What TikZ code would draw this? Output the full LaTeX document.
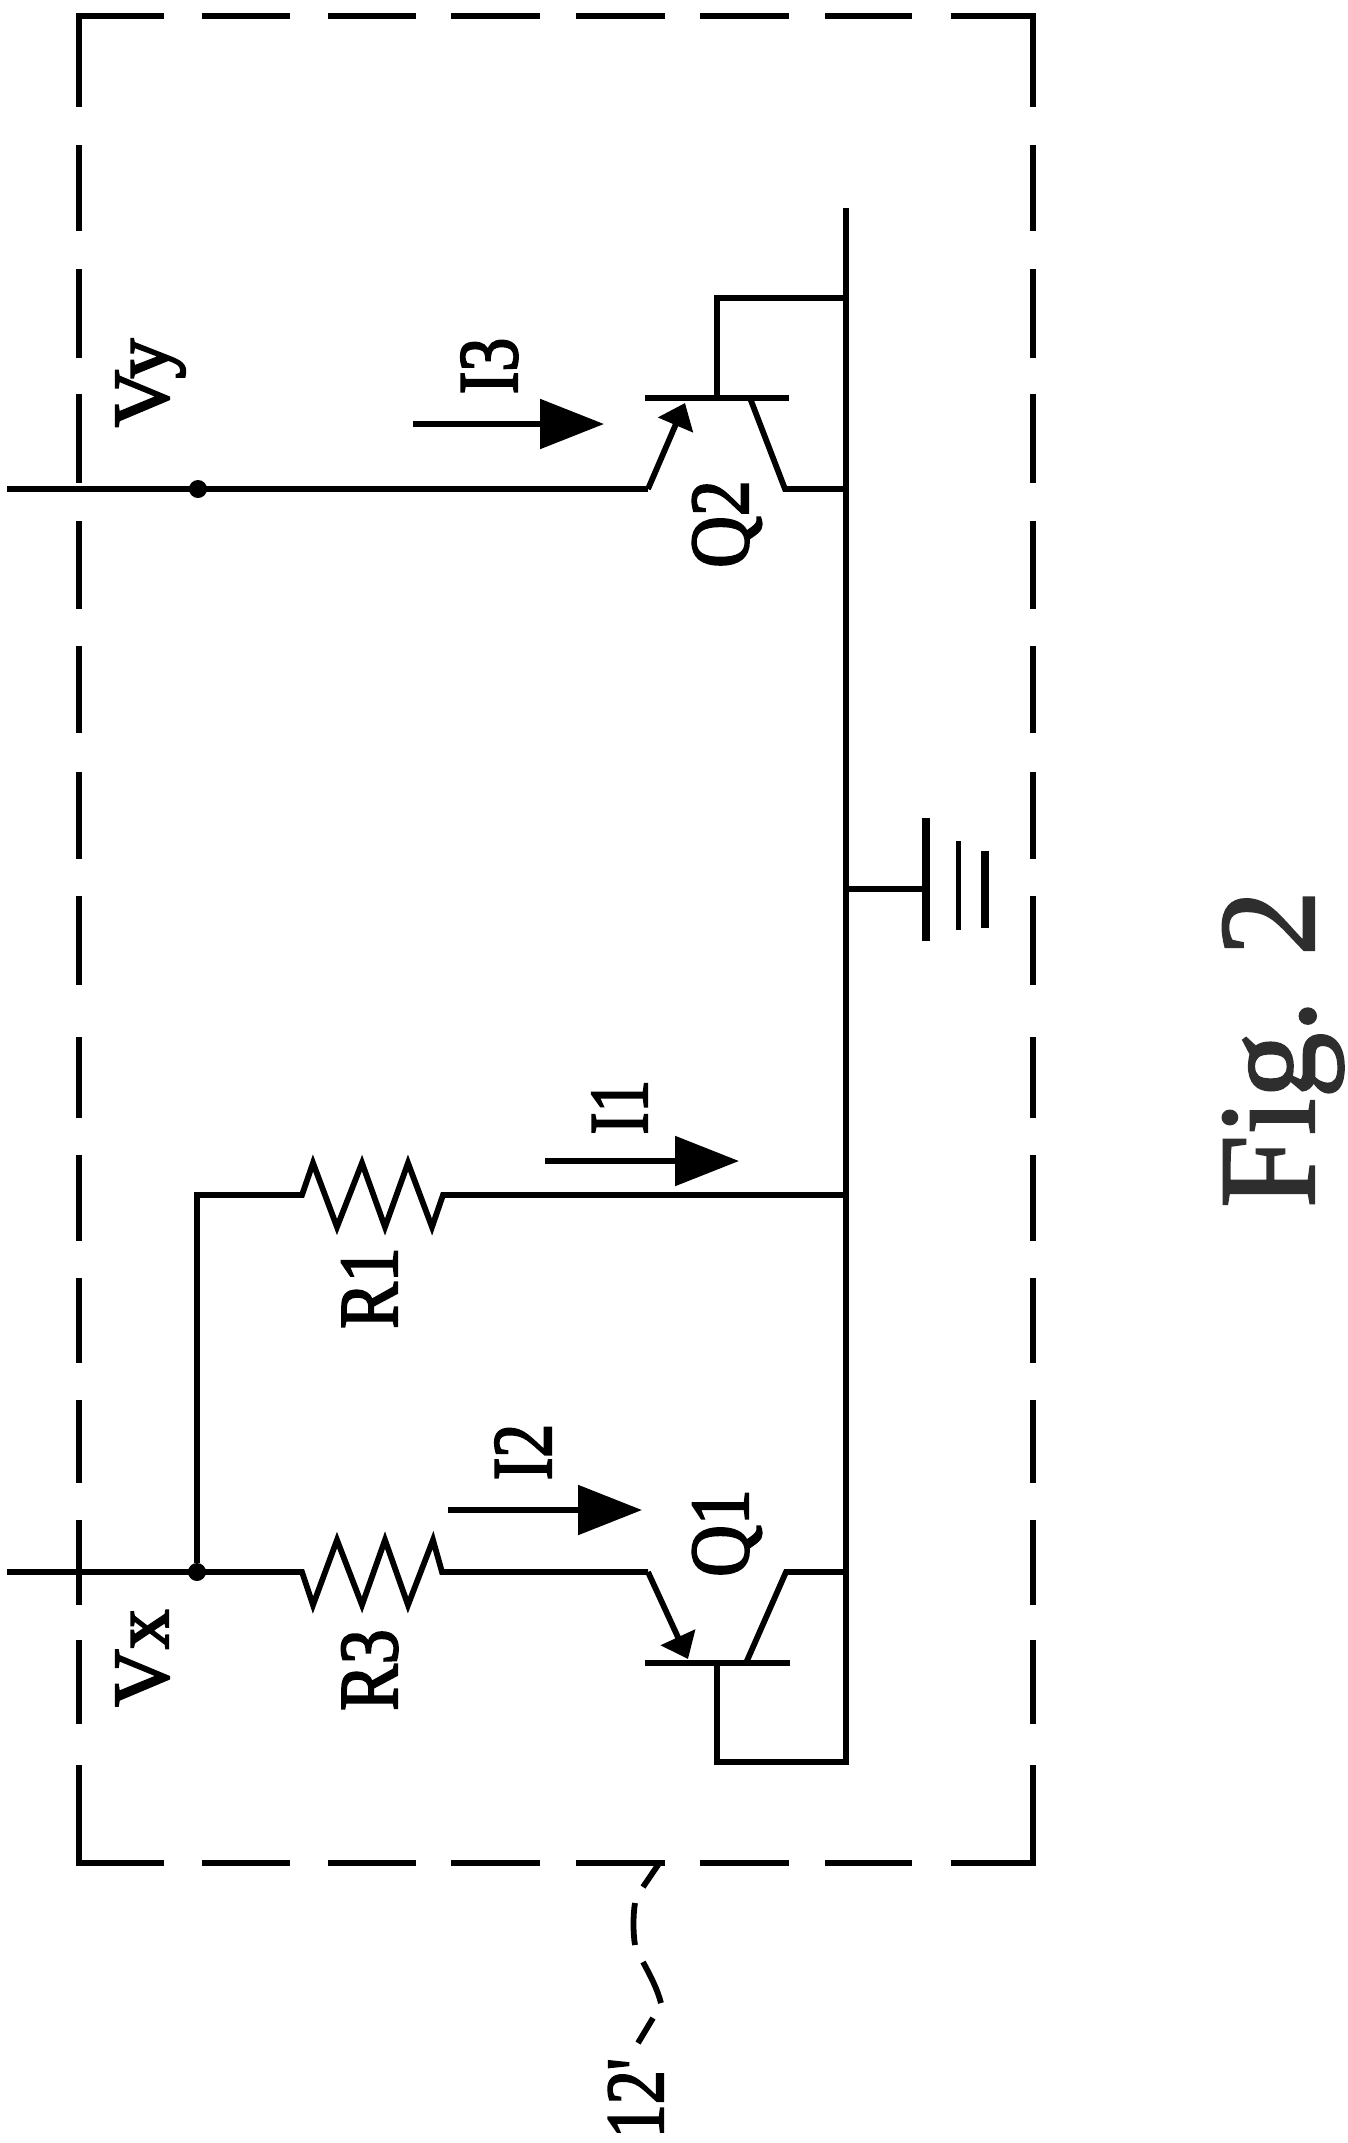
\documentclass[tikz,border=0pt]{standalone}
\usepackage{fontspec}
\setmainfont{Liberation Serif}
\newfontfamily\labserif{Liberation Serif}[FakeBold=2.5]
\newfontfamily\figserif{Liberation Serif}[FakeBold=1.5]
\usetikzlibrary{arrows.meta}
\newcommand{\lblfont}[3]{\fontsize{#1}{#1}\selectfont\scalebox{1}[#2]{#3}}
\tikzset{
  wire/.style={line width=5.8bp,line cap=butt,line join=miter},
  boxline/.style={line width=6.5bp,line cap=butt},
  bar/.style={line width=6.5bp},
  current/.style={line width=5.5bp,-{Triangle[length=64bp,width=49bp]}},
  emit/.style={line width=5.8bp,-{Triangle[length=24bp,width=37bp]}},
  lead/.style={line width=5.8bp},
  lab/.style={rotate=90,inner sep=0pt,anchor=base,font=\labserif},
  dot/.style={circle,fill=black,inner sep=0pt,minimum size=18bp},
  figlab/.style={rotate=90,inner sep=0pt,anchor=base,text=black!82,font=\figserif},
}
\begin{document}
\begin{tikzpicture}[x=1bp,y=-1bp]
\useasboundingbox (0,0) rectangle (1348,2143);
% dashed box
\foreach \a/\b in {202/290,328/416,451/540,576/665,700/789,825/912}{
  \draw[boxline] (\a,16)--(\b,16);
  \draw[boxline] (\a,1863)--(\b,1863);
}
\draw[boxline] (79,107)--(79,16)--(164,16);
\draw[boxline] (951,16)--(1033,16)--(1033,107);
\draw[boxline] (79,1765)--(79,1863)--(164,1863);
\draw[boxline] (951,1863)--(1033,1863)--(1033,1765);
\foreach \a/\b in {145/231,269/358,394/483,521/609,646/733,772/859,896/985,1037/1118,1155/1241,1278/1363,1400/1483,1520/1605,1640/1724}{
  \draw[boxline] (79,\a)--(79,\b);
  \draw[boxline] (1033,\a)--(1033,\b);
}
% named points
\coordinate (bustop) at (846,208);
\coordinate (busbot) at (846,1765);
\coordinate (vyin) at (7,489);
\coordinate (vxin) at (7,1572);
\node[dot] (dy) at (198,489) {};
\node[dot] (dx) at (197,1572) {};
% bus
\draw[wire] (bustop)--(busbot);
% Q2
\coordinate (q2e) at (648,489);
\coordinate (q2t) at (685,403);
\coordinate (q2bl) at (645,398);
\coordinate (q2br) at (789,398);
\coordinate (q2s) at (717,398);
\coordinate (q2c) at (750,398);
\coordinate (q2k) at (785,489);
\draw[wire] (vyin)--(q2e);
\draw[emit] (q2e)--(q2t);
\draw[bar] (q2bl)--(q2br);
\draw[wire] (q2s)--(717,298)--(846,298);
\draw[wire] (q2c)--(q2k)--(846,489);
% Q1
\coordinate (q1e) at (648,1572);
\coordinate (q1t) at (688,1659);
\coordinate (q1bl) at (645,1663);
\coordinate (q1br) at (790,1663);
\coordinate (q1s) at (717,1663);
\coordinate (q1c) at (746,1663);
\coordinate (q1k) at (786,1572);
\draw[wire] (vxin)--(302,1572)--(313,1605)--(337,1540)--(362,1605)--(385,1540)--(408,1605)--(433,1540)--(442,1572)--(q1e);
\draw[emit] (q1e)--(q1t);
\draw[bar] (q1bl)--(q1br);
\draw[wire] (q1s)--(717,1762)--(846,1762);
\draw[wire] (q1c)--(q1k)--(846,1572);
% R1
\draw[wire] (dx)--(197,1195)--(302,1195)--(313,1163)--(337,1227)--(362,1163)--(385,1227)--(408,1163)--(432,1227)--(443,1195)--(846,1195);
% ground
\coordinate (gnd) at (926,889);
\draw[wire] (846,889)--(gnd);
\draw[line width=8.5bp] (926,818)--(926,941);
\draw[line width=5bp] (958,841)--(958,930);
\draw[line width=7.5bp] (985,851)--(985,928);
% currents
\coordinate (i3a) at (413,424); \coordinate (i3b) at (604,424);
\coordinate (i1a) at (545,1161); \coordinate (i1b) at (739,1161);
\coordinate (i2a) at (448,1510); \coordinate (i2b) at (642,1510);
\draw[current] (i3a)--(i3b);
\draw[current] (i1a)--(i1b);
\draw[current] (i2a)--(i2b);
% labels
\node[lab] (vy) at (168,383) {\lblfont{80}{1}{Vy}};
\node[lab] (vx) at (168,1658) {\lblfont{80}{1}{Vx}};
\node[lab] (i3) at (517,366) {\lblfont{68}{1.25}{I3}};
\node[lab] (i1) at (647,1107) {\lblfont{66}{1.27}{I1}};
\node[lab] (i2) at (551,1452) {\lblfont{68}{1.25}{I2}};
\node[lab] (r1) at (397,1288) {\lblfont{70}{1.2}{R1}};
\node[lab] (r3) at (397,1670) {\lblfont{70}{1.2}{R3}};
\node[lab] (q2) at (748,524) {\lblfont{72}{1.17}{Q2}};
\node[lab] (q1) at (748,1533) {\lblfont{72}{1.17}{Q1}};
\node[lab] (ref) at (663,2098) {\lblfont{68}{1.22}{12'}};
\node[figlab] (fig) at (1314,1049) {\lblfont{132}{1.05}{Fig. 2}};
% leader
\coordinate (la) at (660,1862);
\draw[lead] (la)--(643,1887);
\draw[lead] (635,1903)..controls (633,1915) and (633,1933)..(635,1945);
\draw[lead] (643,1962)..controls (650,1975) and (657,1988)..(661,2003);
\draw[lead] (653,2018)--(638,2043);
\end{tikzpicture}
\end{document}
